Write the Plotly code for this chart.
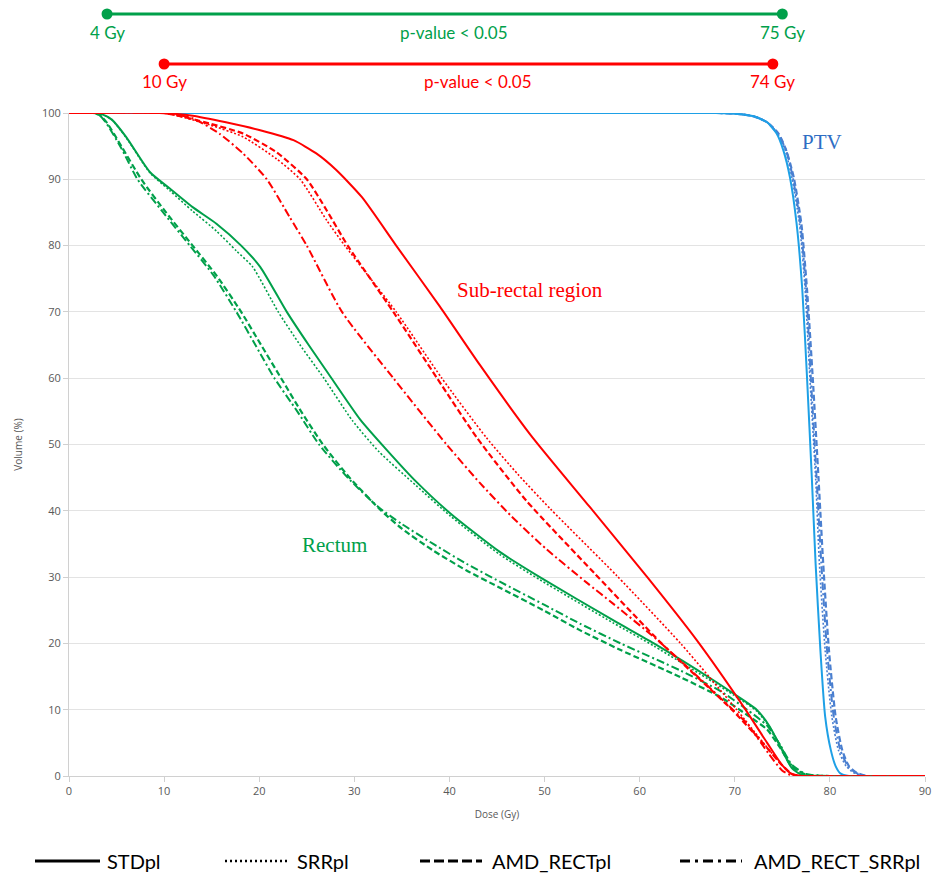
import plotly.graph_objects as go

# ---------------- data ----------------
plans = ["STDpl", "SRRpl", "AMD_RECTpl", "AMD_RECT_SRRpl"]

# Rectum
rectum_std_dose = [0, 2.5, 3.5, 4.5, 6.0, 8.5, 10.6, 13.0, 15.5, 18.1, 20.1, 22.9, 25.2, 27.6, 30.6, 33.4, 36.5, 40.1, 45.3, 49.5, 57.2, 61.5, 67.8, 69.9, 72.3, 73.7, 74.8, 76.0, 77.0, 80, 90]
rectum_std_vol = [100, 100, 99.8, 99.0, 96.4, 91.1, 88.6, 85.8, 83.3, 80.0, 76.8, 70.0, 65.0, 60.0, 53.8, 49.2, 44.4, 39.6, 33.8, 30.0, 23.5, 20.0, 14.4, 12.4, 10.0, 7.4, 4.4, 1.2, 0.2, 0, 0]
rectum_srr_dose = [0, 2.5, 3.5, 4.5, 6.0, 8.5, 10.6, 13.0, 15.5, 17.6, 19.3, 22.0, 24.3, 26.8, 29.8, 32.6, 36.5, 40.1, 45.3, 49.5, 57.2, 61.5, 67.8, 69.9, 72.3, 73.7, 74.8, 76.0, 77.5, 80, 90]
rectum_srr_vol = [100, 100, 99.8, 99.0, 96.3, 91.0, 88.3, 85.2, 82.2, 79.2, 76.8, 70.0, 65.0, 60.0, 53.6, 48.9, 43.8, 39.2, 33.4, 29.6, 23.1, 19.6, 14.1, 12.2, 9.8, 7.3, 4.6, 1.6, 0.2, 0, 0]
rectum_amd_dose = [0, 2.5, 3.2, 4.0, 5.5, 7.6, 10.2, 13.0, 15.5, 18.1, 20.2, 22.3, 24.4, 26.7, 29.5, 32.7, 35.0, 38.3, 41.8, 45.3, 50.0, 53.7, 58.0, 64.3, 68.5, 71.3, 73.4, 74.8, 76.0, 77.5, 80, 90]
rectum_amd_vol = [100, 100, 99.7, 98.5, 95.0, 90.0, 85.0, 80.0, 75.5, 70.0, 65.0, 60.0, 55.0, 50.0, 45.0, 40.2, 37.3, 34.0, 31.0, 28.4, 24.9, 22.0, 19.0, 14.9, 11.9, 9.2, 7.0, 4.2, 1.4, 0.2, 0, 0]
rectum_amdsrr_dose = [0, 2.5, 3.2, 4.0, 5.5, 7.2, 9.9, 12.7, 15.2, 17.6, 19.6, 21.6, 24.0, 26.3, 29.3, 32.5, 35.0, 38.3, 41.8, 45.3, 50.0, 53.7, 58.0, 64.3, 68.5, 71.3, 73.4, 74.8, 76.0, 77.5, 80, 90]
rectum_amdsrr_vol = [100, 100, 99.7, 98.3, 94.7, 90.0, 85.0, 80.0, 75.5, 70.0, 65.0, 60.0, 55.0, 50.0, 45.0, 40.6, 38.0, 35.0, 32.0, 29.3, 25.8, 23.0, 20.0, 15.9, 12.8, 10.0, 7.6, 4.6, 1.7, 0.3, 0, 0]

# Sub-rectal region
subrect_std_dose = [0, 9.5, 13.0, 16.5, 20.1, 23.6, 26.0, 28.1, 30.8, 34.4, 39.0, 43.2, 48.5, 54.8, 60.8, 66.0, 70.9, 73.4, 75.0, 76.0, 77, 90]
subrect_std_vol = [100, 100, 99.6, 98.6, 97.4, 95.9, 93.9, 91.4, 87.3, 80.0, 70.8, 62.0, 51.5, 40.5, 30.0, 20.5, 10.5, 5.0, 1.6, 0.3, 0, 0]
subrect_srr_dose = [0, 10, 14.8, 18.3, 21.8, 24.3, 27.1, 29.0, 34.4, 39.2, 43.9, 47.2, 50.6, 57.6, 64.3, 70.2, 73.0, 74.8, 76.0, 77, 90]
subrect_srr_vol = [100, 100, 98.2, 96.4, 93.1, 90.0, 83.8, 80.0, 70.0, 60.0, 51.0, 45.5, 40.3, 30.2, 20.0, 10.0, 5.0, 1.9, 0.3, 0, 0]
subrect_amd_dose = [0, 10, 14.8, 18.3, 21.8, 25.0, 27.1, 29.3, 34.1, 38.7, 42.9, 48.1, 55.3, 62.3, 69.7, 73.0, 74.8, 76.0, 77, 90]
subrect_amd_vol = [100, 100, 98.4, 96.9, 94.1, 90.0, 85.3, 80.0, 70.0, 60.0, 51.0, 41.5, 30.5, 20.0, 10.0, 4.9, 1.9, 0.3, 0, 0]
subrect_amdsrr_dose = [0, 10, 13.0, 15.8, 18.3, 20.8, 23.2, 25.0, 28.7, 34.1, 39.7, 43.2, 46.5, 50.2, 54.4, 57.2, 61.8, 65.5, 69.8, 71.3, 73.5, 75.0, 76.0, 77, 90]
subrect_amdsrr_vol = [100, 100, 99.2, 96.9, 93.9, 90.0, 84.3, 80.0, 70.0, 60.0, 50.0, 44.2, 39.2, 34.2, 29.2, 26.0, 20.6, 15.8, 10.0, 7.9, 3.5, 0.8, 0.1, 0, 0]

# PTV
ptv_std_dose = [0, 68, 70, 72, 73.4, 74.4, 75.1, 75.8, 76.5, 77.1, 77.6, 78.1, 78.5, 79.0, 79.5, 80.1, 80.6, 81.1, 82, 90]
ptv_std_vol = [100, 100, 99.9, 99.5, 98.6, 96.9, 94.4, 90.3, 83.3, 73.3, 60, 45, 32, 19, 9, 3.9, 1.5, 0.4, 0, 0]
ptv_srr_dose = [0, 68, 70, 72, 73.4, 74.5, 75.3, 76.0, 76.8, 77.4, 77.9, 78.5, 78.9, 79.5, 80.2, 80.9, 81.7, 82.5, 83.5, 90]
ptv_amd_dose = [0, 68, 70, 72, 73.4, 74.6, 75.4, 76.2, 77.0, 77.6, 78.2, 78.8, 79.3, 79.9, 80.6, 81.3, 82.0, 82.8, 84.0, 90]
ptv_amdsrr_dose = [0, 68, 70, 72, 73.4, 74.5, 75.4, 76.1, 76.9, 77.5, 78.0, 78.6, 79.1, 79.7, 80.4, 81.1, 81.9, 82.7, 83.8, 90]
ptv_other_vol = [100, 100, 99.9, 99.5, 98.6, 96.9, 94.4, 90.3, 83.3, 73.3, 60, 45, 32, 19, 9, 3.9, 1.5, 0.5, 0, 0]

# significance ranges (Gy)
sig_labels_start = ["4 Gy", "10 Gy"]
sig_labels_end = ["75 Gy", "74 Gy"]
sig_start = [4, 10]
sig_end = [75, 74]
sig_text = ["p-value < 0.05", "p-value < 0.05"]

x_ticks = [0, 10, 20, 30, 40, 50, 60, 70, 80, 90]
y_ticks = [0, 10, 20, 30, 40, 50, 60, 70, 80, 90, 100]

# ---------------- styles ----------------
GREEN = "#00A04A"
RED = "#FF0000"
BLUE = "#1EA0E6"
BLUE2 = "#4A7FD0"
dash_styles = {"STDpl": "solid", "SRRpl": "2px,2px", "AMD_RECTpl": "6px,3px", "AMD_RECT_SRRpl": "8px,3px,2px,3px"}
legend_dash = {"STDpl": "solid", "SRRpl": "2px,3px", "AMD_RECTpl": "10px,4px", "AMD_RECT_SRRpl": "10px,5px,3px,5px"}
widths = {"STDpl": 2, "SRRpl": 1.6, "AMD_RECTpl": 2.2, "AMD_RECT_SRRpl": 2.0}

fig = go.Figure()

def add(x, y, plan, color, group):
    fig.add_trace(go.Scatter(
        x=x, y=y, mode="lines", name=f"{group} {plan}",
        line=dict(color=color, width=widths[plan], dash=dash_styles[plan], shape="spline", smoothing=0.6),
        showlegend=False))

# PTV first (behind)
add(ptv_amdsrr_dose, ptv_other_vol, "AMD_RECT_SRRpl", BLUE2, "PTV")
add(ptv_amd_dose, ptv_other_vol, "AMD_RECTpl", BLUE2, "PTV")
add(ptv_srr_dose, ptv_other_vol, "SRRpl", BLUE2, "PTV")
add(ptv_std_dose, ptv_std_vol, "STDpl", BLUE, "PTV")

add(rectum_amdsrr_dose, rectum_amdsrr_vol, "AMD_RECT_SRRpl", GREEN, "Rectum")
add(rectum_amd_dose, rectum_amd_vol, "AMD_RECTpl", GREEN, "Rectum")
add(rectum_srr_dose, rectum_srr_vol, "SRRpl", GREEN, "Rectum")
add(rectum_std_dose, rectum_std_vol, "STDpl", GREEN, "Rectum")

add(subrect_amdsrr_dose, subrect_amdsrr_vol, "AMD_RECT_SRRpl", RED, "Sub-rectal region")
add(subrect_amd_dose, subrect_amd_vol, "AMD_RECTpl", RED, "Sub-rectal region")
add(subrect_srr_dose, subrect_srr_vol, "SRRpl", RED, "Sub-rectal region")
add(subrect_std_dose, subrect_std_vol, "STDpl", RED, "Sub-rectal region")

# ---------------- layout ----------------
# the page body adds an 8 px offset, so the figure is 8 px smaller than the window
OFF = 8
W, H = 940 - OFF, 874 - OFF
# plot area in window pixels: x 69..925, y 113..776
ML, MT = 69 - OFF, 113 - OFF
MR, MB = W - (925 - OFF), H - (776 - OFF)
PW, PH = W - ML - MR, H - MT - MB

def py2paper(py):  # window pixel -> paper fraction
    return ((776 - OFF) - (py - OFF)) / PH

def px2paper(px):
    return ((px - OFF) - ML) / PW

shapes = []
annotations = []

# significance bars above the plot
bar_colors = [GREEN, RED]
bar_py = [14, 64]
label_py = [32, 82]
for i in range(2):
    yb = py2paper(bar_py[i])
    yl = py2paper(label_py[i])
    shapes.append(dict(type="line", xref="x", yref="paper", x0=sig_start[i], x1=sig_end[i], y0=yb, y1=yb,
                       line=dict(color=bar_colors[i], width=3)))
    for xv in (sig_start[i], sig_end[i]):
        shapes.append(dict(type="circle", xref="x", yref="paper", xsizemode="pixel", ysizemode="pixel",
                           xanchor=xv, yanchor=yb, x0=-5.5, x1=5.5, y0=-5.5, y1=5.5,
                           fillcolor=bar_colors[i], line=dict(color=bar_colors[i], width=0)))
    tf = dict(family="Lato, Open Sans, sans-serif", size=17, color=bar_colors[i])
    annotations.append(dict(x=sig_start[i], y=yl, xref="x", yref="paper", text=sig_labels_start[i],
                            showarrow=False, font=tf, xanchor="center", yanchor="middle"))
    annotations.append(dict(x=sig_end[i], y=yl, xref="x", yref="paper", text=sig_labels_end[i],
                            showarrow=False, font=tf, xanchor="center", yanchor="middle"))
    annotations.append(dict(x=(sig_start[i] + sig_end[i]) / 2 + 1, y=yl, xref="x", yref="paper", text=sig_text[i],
                            showarrow=False, font=tf, xanchor="center", yanchor="middle"))

# structure labels
serif = "Liberation Serif, Times New Roman, serif"
annotations.append(dict(x=48.5, y=73.3, text="Sub-rectal region", showarrow=False,
                        font=dict(family=serif, size=21, color=RED)))
annotations.append(dict(x=27.9, y=34.8, text="Rectum", showarrow=False,
                        font=dict(family=serif, size=21, color=GREEN)))
annotations.append(dict(x=79.2, y=95.6, text="PTV", showarrow=False,
                        font=dict(family=serif, size=21, color="#2E6DC4")))

# manual legend (black line samples)
leg_line_px = [(35, 100), (225, 290), (420, 482), (680, 742)]
leg_text_px = [105, 295, 490, 752]
yleg = py2paper(861)
for i, plan in enumerate(plans):
    shapes.append(dict(type="line", xref="paper", yref="paper",
                       x0=px2paper(leg_line_px[i][0]), x1=px2paper(leg_line_px[i][1]), y0=yleg, y1=yleg,
                       line=dict(color="black", width=3 if plan != "SRRpl" else 2.5, dash=legend_dash[plan])))
    annotations.append(dict(x=px2paper(leg_text_px[i]), y=yleg, xref="paper", yref="paper", text=plan,
                            showarrow=False, xanchor="left", yanchor="middle",
                            font=dict(family="Lato, Open Sans, sans-serif", size=20, color="black")))

axis_font = dict(family="Open Sans, sans-serif", size=11, color="#595959")
fig.update_layout(
    width=W, height=H,
    margin=dict(l=ML, r=MR, t=MT, b=MB, autoexpand=False),
    paper_bgcolor="white", plot_bgcolor="white",
    showlegend=False,
    shapes=shapes, annotations=annotations,
    xaxis=dict(range=[0, 90], tickvals=x_ticks, ticks="outside", ticklen=5, tickcolor="#D0D0D0",
               showline=True, linecolor="#D0D0D0", linewidth=1, showgrid=False, zeroline=False,
               tickfont=axis_font, automargin=False,
               title=dict(text="Dose (Gy)", font=dict(family="Open Sans, sans-serif", size=10, color="#595959"), standoff=13)),
    yaxis=dict(range=[0, 100], tickvals=y_ticks, ticks="outside", ticklen=5, tickcolor="#D0D0D0",
               showline=True, linecolor="#D0D0D0", linewidth=1, showgrid=True, gridcolor="#E3E3E3", gridwidth=1,
               zeroline=False, tickfont=axis_font, automargin=False,
               title=dict(text="Volume (%)", font=dict(family="Open Sans, sans-serif", size=10, color="#595959"), standoff=17)),
)

fig.write_html("out.html")
